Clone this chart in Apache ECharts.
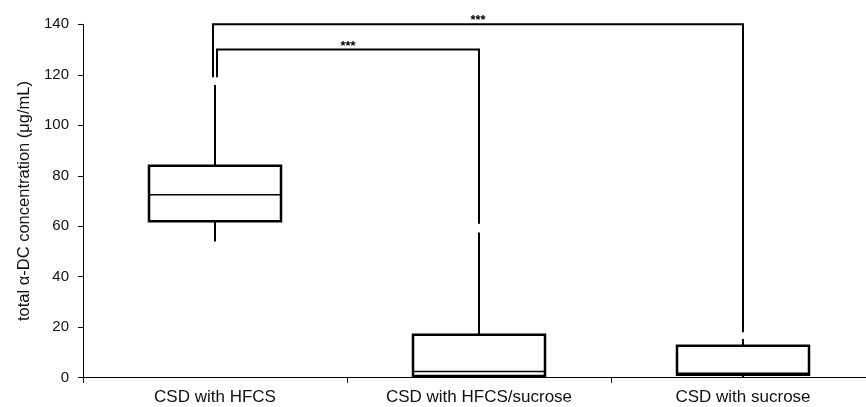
<!DOCTYPE html>
<html>
<head>
<meta charset="utf-8">
<script src="https://cdn.jsdelivr.net/npm/echarts@6/dist/echarts.min.js"></script>
<style>
html,body{margin:0;padding:0;background:#fff;overflow:hidden;width:866px;height:407px;}
#chart{width:875px;height:407px;}
</style>
</head>
<body>
<div id="chart"></div>
<script>
// Data
var categories = ['CSD with HFCS', 'CSD with HFCS/sucrose', 'CSD with sucrose'];
var whiskerLow  = [54, 0, 0];
var quartile1   = [62, 0.7, 1.2];
var medians     = [72.5, 2.5, 1.8];
var quartile3   = [84, 17, 12.7];
var whiskerHigh = [116, 57.5, 15.3];
var yTicks = { min: 0, max: 140, interval: 20 };
// significance brackets: [fromCategory, toCategory, topValue, leftLegEnd, rightLegEnd]
var bracketFrom  = [0, 0];
var bracketTo    = [2, 1];
var bracketTop   = [140, 130];
var bracketLeftEnd  = [119, 119];
var bracketRightEnd = [18, 61];
var bracketLabels = ['***', '***'];

var boxData = categories.map(function (c, i) {
  return [i, whiskerLow[i], quartile1[i], medians[i], quartile3[i], whiskerHigh[i]];
});
var bracketData = bracketFrom.map(function (f, i) {
  return [f, bracketTo[i], bracketTop[i], bracketLeftEnd[i], bracketRightEnd[i]];
});

var FONT = '"Liberation Sans", Arial, Helvetica, sans-serif';
var chart = echarts.init(document.getElementById('chart'), null, { renderer: 'canvas' });

function renderBox(params, api) {
  var idx = api.value(0);
  var band = api.size([1, 0])[0];
  var half = band * 0.25;
  var pMin = api.coord([idx, api.value(1)]);
  var pQ1 = api.coord([idx, api.value(2)]);
  var pMed = api.coord([idx, api.value(3)]);
  var pQ3 = api.coord([idx, api.value(4)]);
  var pMax = api.coord([idx, api.value(5)]);
  var x = pQ1[0];
  var lineStyle = { stroke: '#000', lineWidth: 2, fill: null };
  return {
    type: 'group',
    children: [
      { type: 'line', shape: { x1: x, y1: pQ3[1], x2: x, y2: pMax[1] }, style: lineStyle },
      { type: 'line', shape: { x1: x, y1: pQ1[1], x2: x, y2: pMin[1] }, style: lineStyle },
      { type: 'rect', shape: { x: x - half, y: pQ3[1], width: half * 2, height: pQ1[1] - pQ3[1] },
        style: { stroke: '#000', lineWidth: 2.5, fill: '#fff' } },
      { type: 'line', shape: { x1: x - half, y1: pMed[1], x2: x + half, y2: pMed[1] },
        style: { stroke: '#000', lineWidth: 1.5 } }
    ]
  };
}

function renderBracket(params, api) {
  var f = api.value(0), t = api.value(1);
  var off = (t - f > 1) ? -2 : 2;
  var pTopL = api.coord([f, api.value(2)]);
  var pTopR = api.coord([t, api.value(2)]);
  var pL = api.coord([f, api.value(3)]);
  var pR = api.coord([t, api.value(4)]);
  var xl = pTopL[0] + off, xr = pTopR[0];
  var label = bracketLabels[params.dataIndex];
  return {
    type: 'group',
    children: [
      { type: 'polyline', shape: { points: [[xl, pL[1]], [xl, pTopL[1]], [xr, pTopR[1]], [xr, pR[1]]] },
        style: { stroke: '#000', lineWidth: 2, fill: null } },
      { type: 'text', style: { text: label, x: (xl + xr) / 2, y: pTopL[1] - 10, align: 'center',
        verticalAlign: 'top', font: 'bold 13px ' + FONT, fill: '#000' } }
    ]
  };
}

chart.setOption({
  animation: false,
  backgroundColor: '#fff',
  grid: { left: 83, top: 24.3, right: 0, bottom: 29.3, containLabel: false },
  xAxis: {
    type: 'category',
    data: categories,
    boundaryGap: true,
    axisLine: { show: true, lineStyle: { color: '#000', width: 1 } },
    axisTick: { show: true, inside: false, length: 5, alignWithLabel: false, lineStyle: { color: '#000' } },
    axisLabel: { color: '#111', fontFamily: FONT, fontSize: 17, margin: 11 },
    splitLine: { show: false }
  },
  yAxis: {
    type: 'value',
    min: yTicks.min, max: yTicks.max, interval: yTicks.interval,
    name: 'total α-DC concentration (μg/mL)',
    nameLocation: 'middle',
    nameGap: 50,
    nameTextStyle: { color: '#111', fontFamily: FONT, fontSize: 16.5 },
    axisLine: { show: true, lineStyle: { color: '#000', width: 1 } },
    axisTick: { show: true, inside: false, length: 5, lineStyle: { color: '#000' } },
    axisLabel: { color: '#111', fontFamily: FONT, fontSize: 15, margin: 14 },
    splitLine: { show: false }
  },
  series: [
    {
      type: 'custom',
      renderItem: renderBox,
      data: boxData,
      encode: { x: 0, y: [1, 2, 3, 4, 5] },
      clip: false,
      z: 2
    },
    {
      type: 'custom',
      renderItem: renderBracket,
      data: bracketData,
      encode: { x: [0, 1], y: [2, 3, 4] },
      clip: false,
      z: 3
    }
  ]
});
</script>
</body>
</html>
